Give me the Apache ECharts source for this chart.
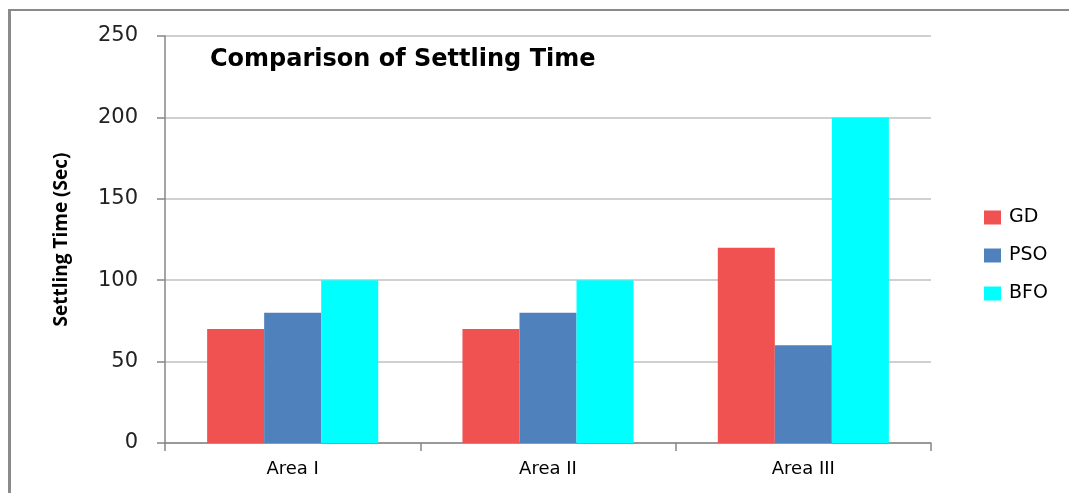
<!DOCTYPE html>
<html><head><meta charset="utf-8">
<script src="https://cdn.jsdelivr.net/npm/echarts@6/dist/echarts.min.js"></script>
<style>html,body{margin:0;padding:0;background:#fff;}
#frame{position:absolute;left:8px;top:9px;width:1070px;height:500px;border-left:3px solid #8a8a8a;border-top:2px solid #8a8a8a;}
#c{position:absolute;left:0;top:0;width:1069px;height:493px;}</style>
</head><body>
<div id="frame"></div>
<div id="c"></div>
<script>
const categories = ['Area I', 'Area II', 'Area III'];
const seriesNames = ['GD', 'PSO', 'BFO'];
const gd = [70, 70, 120];
const pso = [80, 80, 60];
const bfo = [100, 100, 200];
const colors = ['#F05252', '#4F81BD', '#00FFFF'];
const values = [gd, pso, bfo];

const chart = echarts.init(document.getElementById('c'));
chart.setOption({
  animation: false,
  title: {
    text: 'Comparison of Settling Time',
    left: 205, top: 43,
    textStyle: {fontFamily: 'DejaVu Sans', fontWeight: 'bold', fontSize: 24, color: '#000'}
  },
  legend: {
    orient: 'vertical', left: 979, top: 203, itemGap: 19,
    itemWidth: 17, itemHeight: 14, icon: 'rect',
    textStyle: {fontFamily: 'DejaVu Sans', fontSize: 19, color: '#000', padding: [0,0,0,3]},
    data: seriesNames
  },
  grid: {left: 165, right: 138, top: 36, bottom: 50},
  xAxis: {
    type: 'category', data: categories,
    axisLine: {lineStyle: {color: '#868686', width: 1.5}},
    axisTick: {show: true, length: 8, lineStyle: {color: '#868686', width: 1.5}},
    axisLabel: {fontFamily: 'DejaVu Sans', fontSize: 18, color: '#000', margin: 17}
  },
  yAxis: {
    type: 'value', min: 0, max: 250, interval: 50,
    name: 'Settling Time (Sec)', nameLocation: 'middle', nameGap: 94,
    nameTextStyle: {fontFamily: 'Open Sans', fontWeight: 'bold', fontSize: 19, color: '#000'},
    axisLine: {show: true, lineStyle: {color: '#868686', width: 1.5}},
    axisTick: {show: true, length: 8, lineStyle: {color: '#868686', width: 1.5}},
    splitLine: {lineStyle: {color: '#c0c0c0', width: 1.5}},
    axisLabel: {fontFamily: 'DejaVu Sans', fontSize: 21, color: '#222', margin: 27}
  },
  series: seriesNames.map((n, i) => ({
    name: n, type: 'bar', data: values[i],
    itemStyle: {color: colors[i]},
    barGap: '0%', barCategoryGap: '33%'
  }))
});
</script>
</body></html>
